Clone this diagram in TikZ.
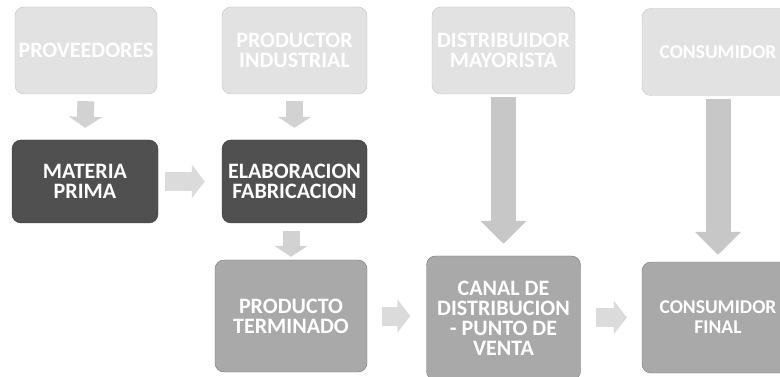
\documentclass[tikz,border=0pt]{standalone}
\usepackage{fontspec}
\setmainfont{Carlito}
\usepackage{tikz}
\usetikzlibrary{arrows.meta}
\definecolor{topgray}{HTML}{E2E2E2}
\definecolor{darkbox}{HTML}{505050}
\definecolor{midbox}{HTML}{A9A9A9}
\definecolor{arrgray}{HTML}{D2D2D2}
\tikzstyle{actor}=[rectangle,rounded corners=9pt,fill=topgray,draw=topgray!85!black,thin,text=white,font=\bfseries\fontsize{22}{20}\selectfont,align=center,minimum height=87pt,inner sep=2pt]
\tikzstyle{stage}=[actor,fill=darkbox,draw=darkbox!70!black,minimum height=83pt,minimum width=146pt]
\tikzstyle{result}=[actor,fill=midbox,draw=midbox!70!black,minimum height=112pt,minimum width=152pt]
\tikzstyle{edgefont}=[font=\bfseries\fontsize{19.5}{20}\selectfont]
\tikzstyle{downarr}=[draw=arrgray,line width=17pt,-{Triangle[width=33pt,length=11pt]},color=arrgray]
\tikzstyle{longarr}=[draw=arrgray!95!black,line width=25pt,-{Triangle[width=45pt,length=23pt]},color=arrgray!95!black]
\tikzstyle{rightarr}=[draw=arrgray!80!white,line width=19pt,-{Triangle[width=33pt,length=13pt]},color=arrgray!80!white]

\begin{document}
\begin{tikzpicture}[x=1pt,y=-1pt]
    \clip (0,0) rectangle (780,377);
    \node[actor,minimum width=142pt] (prov) at (86,50.5) {PROVEEDORES};
    \node[actor,minimum width=145pt] (prod) at (294.5,50.5) {PRODUCTOR\\INDUSTRIAL};
    \node[actor,minimum width=143pt] (dist) at (503.5,50.5) {DISTRIBUIDOR\\MAYORISTA};
    \node[actor,edgefont,minimum width=152pt] (cons) at (718,52) {CONSUMIDOR};
    \node[stage] (mp) at (85,181.5) {MATERIA\\PRIMA};
    \node[stage,minimum width=145pt] (elab) at (294.5,181.5) {ELABORACION\\FABRICACION};
    \node[result] (pt) at (291,316) {PRODUCTO\\TERMINADO};
    \node[result,minimum width=154pt,minimum height=124pt] (canal) at (503.5,318) {CANAL DE\\DISTRIBUCION\\- PUNTO DE\\VENTA};
    \node[result,edgefont,minimum height=111pt] (final) at (718,317.5) {CONSUMIDOR\\FINAL};
    \draw[downarr,shorten <=7pt,shorten >=12pt] (prov.south) -- (mp.north);
    \draw[downarr,shorten <=7pt,shorten >=12pt] (prod.south) -- (elab.north);
    \draw[downarr,shorten <=8pt,shorten >=3pt] (elab.south -| pt.north) -- (pt.north);
    \draw[longarr,shorten <=3pt,shorten >=12pt] (dist.south) -- (dist.south |- canal.north);
    \draw[longarr,shorten <=3pt,shorten >=7pt] (cons.south) -- (final.north);
    \draw[rightarr,shorten <=7pt,shorten >=17pt] (mp.east) -- (elab.west);
    \draw[rightarr,shorten <=15pt,shorten >=16pt] (pt.east) -- (pt.east -| canal.west);
    \draw[rightarr,shorten <=15pt,shorten >=15pt] (canal.east |- final.west) -- (final.west);
\end{tikzpicture}
\end{document}
